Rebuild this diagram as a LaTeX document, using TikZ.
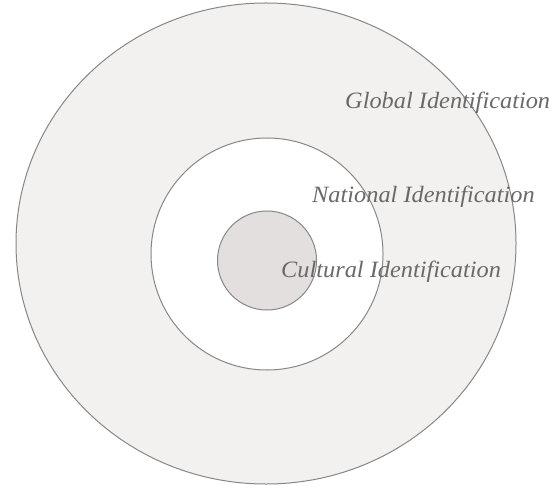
\documentclass[tikz,border=0pt]{standalone}
\usepackage{fontspec}
\setmainfont{Liberation Serif}
\definecolor{ringgray}{RGB}{243,241,240}
\definecolor{coregray}{RGB}{226,223,222}
\definecolor{linegray}{RGB}{135,135,135}
\definecolor{textgray}{RGB}{105,105,105}
\usepackage{tikz}

\begin{document}
\begin{tikzpicture}[x=1bp, y=-1bp,
  ring/.style={draw=linegray, line width=1bp},
  label/.style={anchor=west, inner sep=0pt, text=textgray, xscale=1.04, font=\fontsize{23.5}{26}\selectfont\itshape}]
  \useasboundingbox[fill=white] (0,0) rectangle (557,488);
  %% Outer ring
  \filldraw[ring, fill=ringgray] (266,243.5) ellipse [x radius=250, y radius=240.5];
  %% Middle ring
  \filldraw[ring, fill=white] (267,254) circle (116);
  %% Core
  \filldraw[ring, fill=coregray] (267,260.5) circle (49.5);
  %% Labels
  \node[label] (global) at (345,103) {Global Identification};
  \node[label] (national) at (312,197) {National Identification};
  \node[label] (cultural) at (281,272) {Cultural Identification};
\end{tikzpicture}
\end{document}
